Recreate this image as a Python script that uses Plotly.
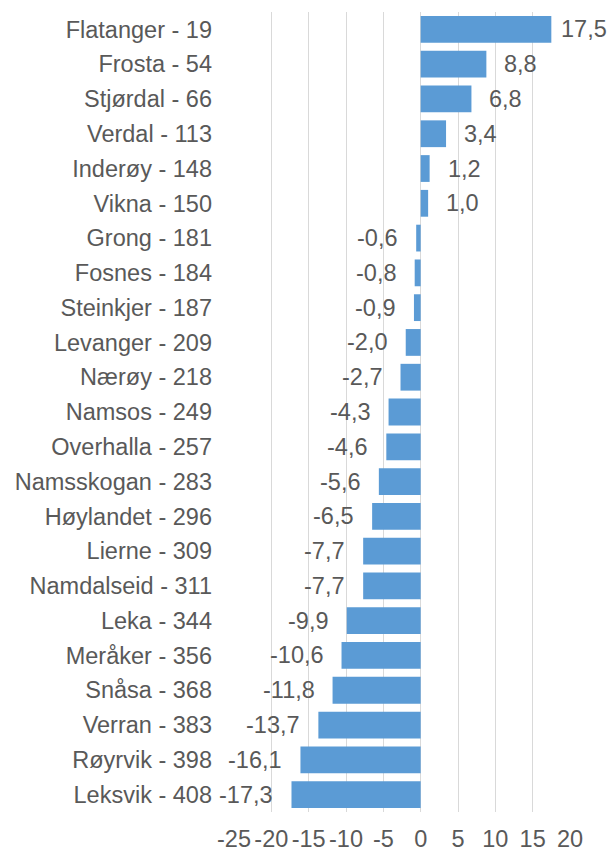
import plotly.graph_objects as go

categories = ["Flatanger - 19", "Frosta - 54", "Stjørdal - 66", "Verdal - 113", "Inderøy - 148",
              "Vikna - 150", "Grong - 181", "Fosnes - 184", "Steinkjer - 187", "Levanger - 209",
              "Nærøy - 218", "Namsos - 249", "Overhalla - 257", "Namsskogan - 283", "Høylandet - 296",
              "Lierne - 309", "Namdalseid - 311", "Leka - 344", "Meråker - 356", "Snåsa - 368",
              "Verran - 383", "Røyrvik - 398", "Leksvik - 408"]
values = [17.5, 8.8, 6.8, 3.4, 1.2, 1.0, -0.6, -0.8, -0.9, -2.0, -2.7, -4.3, -4.6, -5.6,
          -6.5, -7.7, -7.7, -9.9, -10.6, -11.8, -13.7, -16.1, -17.3]
tick_vals = [-25, -20, -15, -10, -5, 0, 5, 10, 15, 20]
tick_text = ["-25", "-20", "-15", "-10", "-5", "0", "5", "10", "15", "20"]

FONT = "Liberation Sans, Arial, sans-serif"
TXT = "#595959"
FS = 23.5

fig = go.Figure(go.Bar(
    x=values, y=categories, orientation="h",
    marker=dict(color="#5B9BD5", line=dict(width=0)),
    hoverinfo="x+y",
))

vmax = max(values)
annotations = []
for c, v in zip(categories, values):
    label = f"{v:.1f}".replace(".", ",")
    if v >= 0:
        shift = 8 if v == vmax else 16
        annotations.append(dict(x=v, y=c, xref="x", yref="y", text=label, showarrow=False,
                                xanchor="left", xshift=shift,
                                font=dict(family=FONT, size=FS, color=TXT)))
    else:
        annotations.append(dict(x=v, y=c, xref="x", yref="y", text=label, showarrow=False,
                                xanchor="right", xshift=-16,
                                font=dict(family=FONT, size=FS, color=TXT)))

fig.update_layout(
    width=607, height=851,
    margin=dict(l=234, r=37, t=12, b=39),
    paper_bgcolor="white", plot_bgcolor="white",
    bargap=0.23,
    showlegend=False,
    font=dict(family=FONT, size=FS, color=TXT),
    annotations=annotations,
    xaxis=dict(range=[-25, 20], tickvals=tick_vals, ticktext=tick_text,
               showgrid=True, gridcolor="#D9D9D9", gridwidth=1,
               zeroline=False, showline=False, ticks="",
               ticklabelstandoff=10, automargin=False,
               tickfont=dict(family=FONT, size=FS, color=TXT)),
    yaxis=dict(autorange="reversed", showgrid=False, zeroline=False, showline=False,
               ticks="", ticklabelstandoff=21, automargin=False,
               tickfont=dict(family=FONT, size=FS, color=TXT)),
)

fig.write_html("out.html", config={"displayModeBar": False},
               post_script="document.body.style.margin='0';document.body.style.overflow='hidden';")
